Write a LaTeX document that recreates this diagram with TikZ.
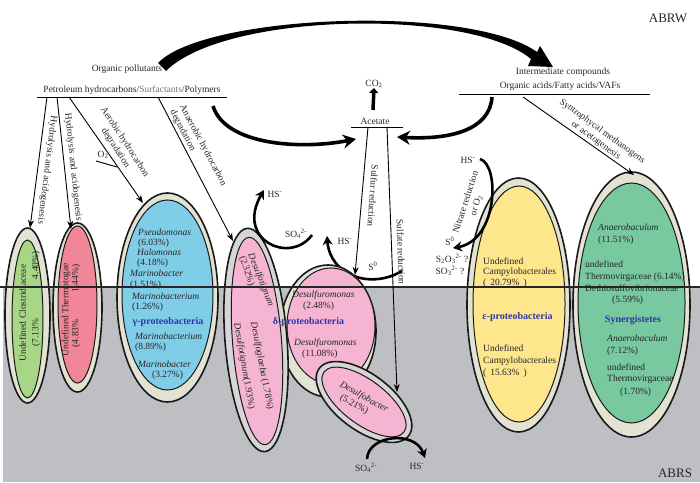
\documentclass[tikz,border=0pt]{standalone}
\usepackage{fontspec}
\setmainfont{Liberation Serif}
\usetikzlibrary{arrows.meta}

\begin{document}
\begin{tikzpicture}[x=1pt,y=1pt,
    txt/.style={font=\fontsize{9.5}{11}\selectfont, text=black!85, inner sep=0pt},
    taxon/.style={font=\fontsize{9.5}{11}\selectfont\itshape, text=black!85, inner sep=0pt, anchor=west},
    pct/.style={txt, anchor=west},
    grupo/.style={font=\fontsize{10}{12}\selectfont\bfseries, text=azulT, inner sep=0pt},
    anillo/.style={draw=black!90, line width=1.6pt, fill=beige},
    nucleo/.style={draw=black!90, line width=1pt},
    regla/.style={line width=0.7pt},
    flecha/.style={line width=0.9pt, -{Stealth[length=8pt,width=6pt]}},
    gruesa/.style={line width=2.6pt, -{Stealth[length=9pt,width=10pt]}},
    swoosh/.style={line width=3.6pt, -{Stealth[length=13pt,width=14pt]}}]
        %colores
        \definecolor{gris}{RGB}{190,191,195}
        \definecolor{beige}{RGB}{226,227,211}
        \definecolor{grisA}{RGB}{214,214,214}
        \definecolor{verdeC}{RGB}{168,214,135}
        \definecolor{rosaT}{RGB}{241,134,153}
        \definecolor{azulG}{RGB}{128,205,232}
        \definecolor{rosaD}{RGB}{245,180,210}
        \definecolor{amarillo}{RGB}{253,230,140}
        \definecolor{verdeS}{RGB}{120,200,160}
        \definecolor{azulT}{RGB}{45,55,170}

        \useasboundingbox (0,0) rectangle (700,482);

        %fondo
        \fill[gris] (3,0) rectangle (700,195);

        %flechas bajo las elipses
        \coordinate (s0a) at (402,211);
        \coordinate (s0b) at (327,246);
        \draw[gruesa] (s0a) .. controls (370,192) and (330,207) .. (s0b);

        %elipses
        \draw[anillo] (27.5,166.5) ellipse [x radius=22.5, y radius=87.5];
        \draw[nucleo, fill=verdeC] (27.5,163) ellipse [x radius=15.5, y radius=79];
        \draw[anillo] (77.5,174.5) ellipse [x radius=24.5, y radius=84.5];
        \draw[nucleo, fill=rosaT] (77.5,177.5) ellipse [x radius=19.5, y radius=78.5];
        \draw[anillo] (167.5,184.5) ellipse [x radius=50.5, y radius=104.5];
        \draw[nucleo, fill=azulG] (167.5,187) ellipse [x radius=45.5, y radius=95];
        \draw[anillo] (328,151) ellipse [x radius=48, y radius=66];
        \draw[nucleo, fill=rosaD] (331,156) ellipse [x radius=44, y radius=58];
        \draw[anillo, fill=grisA, rotate around={4.5:(256,142)}] (256,142) ellipse [x radius=31, y radius=112];
        \draw[nucleo, fill=rosaD, rotate around={4.5:(257,141)}] (257,141) ellipse [x radius=24.5, y radius=104];
        \draw[anillo, fill=grisA, rotate around={-37:(364,80)}] (364,80) ellipse [x radius=56, y radius=28];
        \draw[nucleo, fill=rosaD, rotate around={-37:(364,80)}] (364,80) ellipse [x radius=50, y radius=22];
        \draw[anillo] (518.5,177) ellipse [x radius=51.5, y radius=127];
        \draw[nucleo, fill=amarillo] (519,178) ellipse [x radius=46, y radius=118];
        \draw[anillo] (631.5,177.5) ellipse [x radius=58.5, y radius=132.5];
        \draw[nucleo, fill=verdeS] (631.5,179) ellipse [x radius=53.5, y radius=120];

        %linea ABRW / ABRS
        \draw[line width=1.3pt, black!85] (0,195) -- (700,195);
        \node[txt, font=\fontsize{13}{15}\selectfont] (abrw) at (668,464) {ABRW};
        \node[txt, font=\fontsize{13}{15}\selectfont] (abrs) at (675,9) {ABRS};

        %compuestos
        \node[txt] (organic) at (127,413) {Organic pollutants};
        \node[txt] (petro) at (132,392) {Petroleum hydrocarbons/\textcolor{black!55}{Surfactants}/Polymers};
        \coordinate (pl) at (37,385);
        \coordinate (pr) at (227,385);
        \draw[regla] (pl) -- (pr);
        \node[txt] (inter) at (563,410) {Intermediate compounds};
        \node[txt] (acids) at (560,396) {Organic acids/Fatty acids/VAFs};
        \coordinate (il) at (459,388);
        \coordinate (ir) at (650,388);
        \draw[regla] (il) -- (ir);
        \node[txt] (acetate) at (375,361) {Acetate};
        \coordinate (al) at (351,355);
        \coordinate (ar) at (403,355);
        \draw[regla] (al) -- (ar);
        \node[txt] (co2) at (374,398) {CO\textsubscript{2}};
        \coordinate (co2a) at (373,372);
        \draw[line width=3.5pt, -{Triangle[length=5pt,width=9pt]}] (co2a) -- (co2.south);

        %flecha grande
        \fill (158,419) .. controls (205,468) and (470,478) .. (537,430)
            -- (540,436) -- (553,415) -- (528,416) -- (531,423)
            .. controls (470,474) and (225,470) .. (166,411) -- cycle;

        %hacia acetato
        \coordinate (sw1a) at (213,376);
        \coordinate (sw1b) at (356,343);
        \draw[swoosh] (sw1a) .. controls (225,337) and (300,332) .. (sw1b);
        \coordinate (sw2a) at (492,385);
        \coordinate (sw2b) at (397,345);
        \draw[swoosh] (sw2a) .. controls (490,352) and (450,342) .. (sw2b);

        %rutas
        \coordinate (h1a) at (47,385);
        \coordinate (h1b) at (30,254);
        \coordinate (h2a) at (57,385);
        \coordinate (h2b) at (71,253);
        \coordinate (aea) at (69,385);
        \coordinate (aeb) at (143,279);
        \coordinate (ana) at (158,385);
        \coordinate (anb) at (233,241);
        \coordinate (sya) at (523,385);
        \coordinate (syb) at (634,307);
        \coordinate (sua) at (368,355);
        \coordinate (sub) at (355,207);
        \coordinate (saa) at (387,355);
        \coordinate (sab) at (397,90);
        \coordinate (o2a) at (96,321);
        \coordinate (o2b) at (117,315);
        \draw[flecha] (h1a) -- (h1b);
        \draw[flecha] (h2a) -- (h2b);
        \draw[flecha] (aea) -- (aeb);
        \draw[flecha] (ana) -- (anb);
        \draw[flecha] (sya) -- (syb);
        \draw[flecha] (sua) -- (sub);
        \draw[flecha] (saa) -- (sab);
        \draw[line width=0.9pt] (o2a) -- (o2b);

        \node[txt, rotate=-97] (hyd1) at (47,312) {Hydrolysis and acidogenesis};
        \node[txt, rotate=-84] (hyd2) at (73,315) {Hydrolysis and acidogenesis};
        \node[txt, rotate=-57, align=center] (aer) at (120,337) {Aerobic hydrocarbon\\degradation};
        \node[txt] (o2) at (103,327) {O\textsubscript{2}};
        \node[txt, rotate=-62, align=left] (anae) at (198,334) {Anaerobic hydrocarbon\\degradation};
        \node[txt, rotate=-36, align=center] (syn) at (599,346) {Syntrophycal methanogens\\or acetogenesis};
        \node[txt, rotate=-94] (sulfur) at (373,286) {Sulfur reduction};
        \node[txt, rotate=-88] (sulfate) at (401,230) {Sulfate reduction};
        \node[txt, rotate=72, align=center] (nitr) at (471,278) {Nitrate reduction\\or O\textsubscript{2}};

        %azufre
        \coordinate (so4a) at (312,247);
        \coordinate (so4b) at (264,292);
        \draw[gruesa] (so4a) .. controls (290,217) and (235,242) .. (so4b);
        \coordinate (nia) at (480,323);
        \coordinate (nib) at (453,234);
        \draw[gruesa] (nia) .. controls (500,317) and (498,242) .. (nib);
        \coordinate (sba) at (367,23);
        \coordinate (sbb) at (425,24);
        \draw[gruesa] (sba) .. controls (368,47) and (415,52) .. (sbb);
        \node[txt] (hs1) at (275,288) {HS\textsuperscript{-}};
        \node[txt] (so41) at (296,248) {SO\textsubscript{4}\textsuperscript{2-}};
        \node[txt] (hs2) at (345,241) {HS\textsuperscript{-}};
        \node[txt] (s01) at (373,216) {S\textsuperscript{0}};
        \node[txt] (hs3) at (468,322) {HS\textsuperscript{-}};
        \node[txt] (s02) at (450,241) {S\textsuperscript{0}};
        \node[txt] (s2o3) at (452,223) {S\textsubscript{2}O\textsubscript{3}\textsuperscript{2-} ?};
        \node[txt] (so3) at (450,211) {SO\textsubscript{3}\textsuperscript{2-} ?};
        \node[txt] (so42) at (366,14) {SO\textsubscript{4}\textsuperscript{2-}};
        \node[txt] (hs4) at (417,16) {HS\textsuperscript{-}};

        %textos de elipses
        \node[txt, rotate=90] (clos) at (22.5,169) {Undefined Clostridiaceae};
        \node[txt, rotate=90] (closp) at (36,183) {(7.13\%\hspace{40pt}4.40\%)};
        \node[txt, rotate=90] (ther) at (66,172.5) {Undefined Thermotogae};
        \node[txt, rotate=90] (therp) at (76,176) {(4.83\%\hspace{27pt}1.44\%)};

        \node[taxon] (pseudo) at (138,250) {Pseudomonas};
        \node[pct] (pseudop) at (138,239) {(6.03\%)};
        \node[taxon] (halo) at (137,230) {Halomonas};
        \node[pct] (halop) at (137,219) {(4.18\%)};
        \node[taxon] (mbac1) at (130,209) {Marinobacter};
        \node[pct] (mbac1p) at (130,197) {(1.51\%)};
        \node[taxon] (mbm1) at (132,186) {Marinobacterium};
        \node[pct] (mbm1p) at (132,175) {(1.26\%)};
        \node[grupo] (gamma) at (168,160) {γ-proteobacteria};
        \node[taxon] (mbm2) at (135,146) {Marinobacterium};
        \node[pct] (mbm2p) at (135,135) {(8.89\%)};
        \node[taxon] (mbac2) at (138,118) {Marinobacter};
        \node[pct] (mbac2p) at (152,107) {(3.27\%)};

        \node[txt, font=\fontsize{9.5}{11}\selectfont\itshape, rotate=-68] (dft1) at (260.7,202) {Desulfotignum};
        \node[txt, rotate=-72] (dft1p) at (246.7,211) {(2.32\%)};
        \node[txt, rotate=-79] (dfg) at (261.7,116) {\textit{Desulfoglaeba} (1.78\%)};
        \node[txt, rotate=-80] (dft2) at (244,116) {\textit{Desulfotignum}(1.93\%)};
        \node[taxon] (dfm1) at (292,187) {Desulfuromonas};
        \node[pct] (dfm1p) at (303,176) {(2.48\%)};
        \node[grupo] (delta) at (308.5,160) {δ-proteobacteria};
        \node[taxon] (dfm2) at (294,139) {Desulfuromonas};
        \node[pct] (dfm2p) at (302,128) {(11.08\%)};
        \node[txt, rotate=-29] (dfb) at (364,84.5) {\textit{Desulfobacter}};
        \node[txt, rotate=-29] (dfbp) at (354,77.5) {(5.21\%)};

        \node[pct] (und1) at (483,221) {Undefined};
        \node[pct] (camp1) at (483,210) {Campylobacterales};
        \node[pct] (camp1p) at (483,199) {(\hspace{4pt}20.79\%\hspace{4pt})};
        \node[grupo] (eps) at (517.5,165) {ε-proteobacteria};
        \node[pct] (und2) at (483,134) {Undefined};
        \node[pct] (camp2) at (483,121) {Campylobacterales};
        \node[pct] (camp2p) at (483,109) {(\hspace{4pt}15.63\%\hspace{4pt})};

        \node[taxon] (anae1) at (598,255) {Anaerobaculum};
        \node[pct] (anae1p) at (598,242) {(11.51\%)};
        \node[pct] (undT1) at (585,218) {undefined};
        \node[pct] (therm1) at (585,205) {Thermovirgaceae (6.14\%)};
        \node[pct] (deth) at (585,194) {Dethiosulfovibrionaceae};
        \node[pct] (dethp) at (612,182) {(5.59\%)};
        \node[grupo] (syne) at (633,162) {Synergistetes};
        \node[taxon] (anae2) at (607,144) {Anaerobaculum};
        \node[pct] (anae2p) at (607,131) {(7.12\%)};
        \node[pct] (undT2) at (607,115) {undefined};
        \node[pct] (therm2) at (607,103) {Thermovirgaceae};
        \node[pct] (therm2p) at (620,90) {(1.70\%)};
    \end{tikzpicture}
\end{document}
